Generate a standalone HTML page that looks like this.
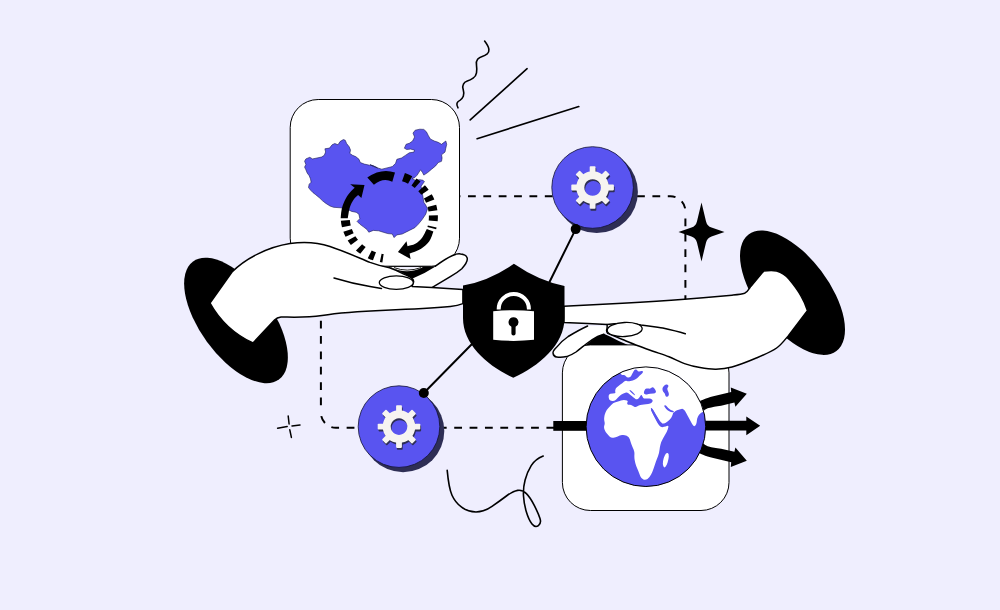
<!DOCTYPE html>
<html><head><meta charset="utf-8"><title>Illustration</title>
<style>html,body{margin:0;padding:0;background:#EFEEFE;}body{width:1000px;height:610px;overflow:hidden;}svg{display:block}</style>
</head><body>
<svg width="1000" height="610" viewBox="0 0 1000 610">
<rect width="1000" height="610" fill="#EFEEFE"/>
<path d="M452.6,196.2 H670.4 A15,15 0 0 1 685.4,211.2" fill="none" stroke="#000" stroke-width="2" stroke-dasharray="7.8 7.57"/>
<path d="M685.4,218.4 V303" fill="none" stroke="#000" stroke-width="2" stroke-dasharray="7.8 7.57"/>
<path d="M320.9,320.7 V412.6" fill="none" stroke="#000" stroke-width="2" stroke-dasharray="7.8 7.57"/>
<path d="M320.9,412.8 A15,15 0 0 0 335.9,427.8 H556" fill="none" stroke="#000" stroke-width="2" stroke-dasharray="7.8 7.57" stroke-dashoffset="-3.4"/>
<path d="M575.7,229.1 L548,285 M423.8,393 L472,344" stroke="#000" stroke-width="2" fill="none"/>
<path d="M484.6,41.1 Q488.6,46.4 488.9,49.3 Q489.2,52.1 487.2,53.9 Q485.1,55.6 482.2,56.4 Q479.4,57.2 477.6,59.3 Q475.9,61.3 476.5,65.4 Q477.1,69.4 476.5,72.8 Q475.9,76.3 473.1,78.2 Q470.2,80.2 467.3,81.1 Q464.4,82.0 463.3,84.3 Q462.1,86.6 463.3,90.0 Q464.4,93.5 463.3,96.3 Q462.1,99.2 459.9,100.4 Q457.6,101.5 457.0,103.2 Q456.4,105.0 458.0,107.9" fill="none" stroke="#000" stroke-width="1.6" stroke-linecap="round"/>
<path d="M527.1,68.7 L470.2,119.9 M578.8,106.6 L477.1,138.7" stroke="#000" stroke-width="1.6" stroke-linecap="round"/>
<path d="M447.2,470.4 Q448.8,488.0 452.0,495.2 Q455.2,502.4 461.6,507.2 Q468.0,512.0 476.0,512.0 Q484.0,512.0 492.0,506.4 Q500.0,500.8 506.4,496.0 Q512.8,491.2 517.6,490.4 Q522.4,489.6 526.4,493.6 Q530.4,497.6 534.4,505.6 Q538.4,513.6 540.0,518.4 Q541.6,523.2 538.4,525.6 Q535.2,528.0 532.0,524.0 Q528.8,520.0 526.4,512.0 Q524.0,504.0 523.5,496.0 Q523.0,488.0 525.1,480.0 Q527.2,472.0 531.2,465.6 Q535.2,459.2 543.2,456.0" fill="none" stroke="#000" stroke-width="1.6" stroke-linecap="round"/>
<path d="M277.6,428.2 L287.2,426.6 M292,425.9 L300,425 M288.2,416 L289.1,424 M289.8,429.8 L291.4,437.4" stroke="#000" stroke-width="1.5" stroke-linecap="round"/>
<path d="M701.5,202.6 L706.04,221.5 Q707.14,226.1 711.5,227.58 L724.5,232.0 L711.5,236.42 Q707.14,237.9 706.04,242.5 L701.5,261.4 L696.96,242.5 Q695.86,237.9 691.5,236.42 L678.5,232.0 L691.5,227.58 Q695.86,226.1 696.96,221.5Z" fill="#000"/>
<circle cx="596.7" cy="191.9" r="41.2" fill="#2E2E55"/><circle cx="592.6" cy="187.5" r="40.8" fill="#5954F0" stroke="#111133" stroke-width="0.8"/><g transform="translate(593.4,189.4)" fill="#2E2E55"><rect x="-2.9" y="-21.3" width="5.8" height="9" rx="0.8" transform="rotate(0)"/><rect x="-2.9" y="-21.3" width="5.8" height="9" rx="0.8" transform="rotate(45)"/><rect x="-2.9" y="-21.3" width="5.8" height="9" rx="0.8" transform="rotate(90)"/><rect x="-2.9" y="-21.3" width="5.8" height="9" rx="0.8" transform="rotate(135)"/><rect x="-2.9" y="-21.3" width="5.8" height="9" rx="0.8" transform="rotate(180)"/><rect x="-2.9" y="-21.3" width="5.8" height="9" rx="0.8" transform="rotate(225)"/><rect x="-2.9" y="-21.3" width="5.8" height="9" rx="0.8" transform="rotate(270)"/><rect x="-2.9" y="-21.3" width="5.8" height="9" rx="0.8" transform="rotate(315)"/><path fill-rule="evenodd" d="M0,-16.3 A16.3,16.3 0 1 1 -0.01,-16.3Z M0,-8.3 A8.3,8.3 0 1 0 0.01,-8.3Z"/></g><g transform="translate(592.6,187.5)" fill="#F6F4F1"><rect x="-2.9" y="-21.3" width="5.8" height="9" rx="0.8" transform="rotate(0)"/><rect x="-2.9" y="-21.3" width="5.8" height="9" rx="0.8" transform="rotate(45)"/><rect x="-2.9" y="-21.3" width="5.8" height="9" rx="0.8" transform="rotate(90)"/><rect x="-2.9" y="-21.3" width="5.8" height="9" rx="0.8" transform="rotate(135)"/><rect x="-2.9" y="-21.3" width="5.8" height="9" rx="0.8" transform="rotate(180)"/><rect x="-2.9" y="-21.3" width="5.8" height="9" rx="0.8" transform="rotate(225)"/><rect x="-2.9" y="-21.3" width="5.8" height="9" rx="0.8" transform="rotate(270)"/><rect x="-2.9" y="-21.3" width="5.8" height="9" rx="0.8" transform="rotate(315)"/><path fill-rule="evenodd" d="M0,-16.3 A16.3,16.3 0 1 1 -0.01,-16.3Z M0,-8.3 A8.3,8.3 0 1 0 0.01,-8.3Z"/></g>
<circle cx="403.1" cy="431.0" r="41.2" fill="#2E2E55"/><circle cx="399" cy="426.6" r="40.8" fill="#5954F0" stroke="#111133" stroke-width="0.8"/><g transform="translate(399.8,428.5)" fill="#2E2E55"><rect x="-2.9" y="-21.3" width="5.8" height="9" rx="0.8" transform="rotate(0)"/><rect x="-2.9" y="-21.3" width="5.8" height="9" rx="0.8" transform="rotate(45)"/><rect x="-2.9" y="-21.3" width="5.8" height="9" rx="0.8" transform="rotate(90)"/><rect x="-2.9" y="-21.3" width="5.8" height="9" rx="0.8" transform="rotate(135)"/><rect x="-2.9" y="-21.3" width="5.8" height="9" rx="0.8" transform="rotate(180)"/><rect x="-2.9" y="-21.3" width="5.8" height="9" rx="0.8" transform="rotate(225)"/><rect x="-2.9" y="-21.3" width="5.8" height="9" rx="0.8" transform="rotate(270)"/><rect x="-2.9" y="-21.3" width="5.8" height="9" rx="0.8" transform="rotate(315)"/><path fill-rule="evenodd" d="M0,-16.3 A16.3,16.3 0 1 1 -0.01,-16.3Z M0,-8.3 A8.3,8.3 0 1 0 0.01,-8.3Z"/></g><g transform="translate(399,426.6)" fill="#F6F4F1"><rect x="-2.9" y="-21.3" width="5.8" height="9" rx="0.8" transform="rotate(0)"/><rect x="-2.9" y="-21.3" width="5.8" height="9" rx="0.8" transform="rotate(45)"/><rect x="-2.9" y="-21.3" width="5.8" height="9" rx="0.8" transform="rotate(90)"/><rect x="-2.9" y="-21.3" width="5.8" height="9" rx="0.8" transform="rotate(135)"/><rect x="-2.9" y="-21.3" width="5.8" height="9" rx="0.8" transform="rotate(180)"/><rect x="-2.9" y="-21.3" width="5.8" height="9" rx="0.8" transform="rotate(225)"/><rect x="-2.9" y="-21.3" width="5.8" height="9" rx="0.8" transform="rotate(270)"/><rect x="-2.9" y="-21.3" width="5.8" height="9" rx="0.8" transform="rotate(315)"/><path fill-rule="evenodd" d="M0,-16.3 A16.3,16.3 0 1 1 -0.01,-16.3Z M0,-8.3 A8.3,8.3 0 1 0 0.01,-8.3Z"/></g>
<circle cx="575.7" cy="229.1" r="5" fill="#000"/><circle cx="423.8" cy="393" r="5" fill="#000"/>
<rect x="290.2" y="99.5" width="169.3" height="166.7" rx="28" fill="#fff" stroke="#000" stroke-width="1"/>
<path d="M325.6,203.2 L322.3,200.6 L319.7,198.0 L315.7,194.7 L313.1,192.7 L310.5,190.1 L308.5,187.5 L309.2,184.2 L311.1,182.2 L310.5,178.9 L309.2,175.7 L307.2,173.0 L305.9,169.8 L304.6,167.1 L305.9,164.5 L304.6,161.2 L305.9,158.9 L309.8,157.3 L312.5,158.9 L317.0,158.0 L321.6,157.0 L324.3,155.3 L325.6,152.0 L324.9,148.8 L329.5,148.1 L332.1,144.8 L334.8,143.5 L338.0,144.8 L340.0,141.6 L343.3,139.6 L345.2,140.2 L346.6,143.5 L349.2,146.8 L350.5,150.1 L349.8,153.4 L352.5,155.3 L355.7,156.6 L359.0,159.3 L360.3,162.5 L364.3,164.1 L369.5,165.2 L373.4,165.8 L377.4,167.8 L370.0,164.6 L375.2,167.2 L381.8,169.2 L387.0,167.9 L392.3,166.6 L395.6,163.3 L396.9,159.3 L401.5,158.0 L405.4,155.4 L409.3,152.8 L413.9,152.1 L414.6,150.2 L410.7,149.1 L406.7,149.5 L404.4,148.2 L406.1,144.3 L409.3,143.3 L412.6,141.0 L414.6,137.0 L413.0,133.1 L415.2,130.2 L419.8,129.2 L423.8,129.4 L426.4,131.8 L428.4,135.7 L430.3,139.0 L434.3,141.0 L438.2,142.3 L441.5,144.3 L445.8,141.0 L446.7,144.3 L445.8,148.2 L445.0,152.1 L441.5,154.8 L442.1,158.0 L441.5,161.3 L438.2,162.6 L435.6,165.9 L431.6,169.2 L427.7,172.5 L423.8,175.1 L422.5,172.5 L420.5,169.8 L417.2,175.1 L414.6,177.7 L412.0,178.4 L415.2,180.3 L419.8,179.7 L423.1,180.3 L424.4,181.6 L422.5,184.3 L421.1,186.2 L423.9,202.4 L425.7,205.1 L427.5,208.7 L425.7,214.2 L422.1,219.6 L418.4,224.1 L414.8,227.7 L409.4,230.4 L402.2,234.0 L396.8,234.9 L394.1,237.6 L392.3,234.0 L387.8,233.6 L383.2,232.2 L378.7,230.8 L373.3,230.4 L368.8,232.2 L367.0,229.5 L363.4,226.8 L359.8,224.1 L357.1,221.4 L359.8,218.7 L358.9,214.2 L356.2,212.3 L351.7,211.4 L348.1,209.6 L340.8,207.8 L333.6,207.3 L330.0,206.0Z" fill="#5954F0" stroke="#1a1a50" stroke-width="0.6" stroke-linejoin="round"/>
<g transform="translate(389.3 216.8) scale(1 0.95) translate(-389.3 -216.8)">
<path d="M403.48,175.04 A44.1,44.1 0 0 1 410.17,177.95" fill="none" stroke="#000" stroke-width="9"/>
<path d="M413.96,180.24 A44.1,44.1 0 0 1 417.65,183.02" fill="none" stroke="#000" stroke-width="9"/>
<path d="M421.61,186.78 A44.1,44.1 0 0 1 425.02,190.94" fill="none" stroke="#000" stroke-width="9"/>
<path d="M427.83,195.35 A44.1,44.1 0 0 1 430.16,200.21" fill="none" stroke="#000" stroke-width="9"/>
<path d="M431.86,205.24 A44.1,44.1 0 0 1 432.95,210.51" fill="none" stroke="#000" stroke-width="9"/>
<path d="M433.38,215.38 A44.1,44.1 0 0 1 433.19,221.14" fill="none" stroke="#000" stroke-width="9"/>
<path d="M432.22,226.95 A44.1,44.1 0 0 1 431.75,228.73" fill="none" stroke="#000" stroke-width="9"/>
<path d="M383.01,260.45 A44.1,44.1 0 0 1 380.73,260.06" fill="none" stroke="#000" stroke-width="9"/>
<path d="M374.47,258.33 A44.1,44.1 0 0 1 369.73,256.32" fill="none" stroke="#000" stroke-width="9"/>
<path d="M362.98,252.18 A44.1,44.1 0 0 1 359.03,248.87" fill="none" stroke="#000" stroke-width="9"/>
<path d="M354.43,243.80 A44.1,44.1 0 0 1 351.52,239.55" fill="none" stroke="#000" stroke-width="9"/>
<path d="M349.58,235.96 A44.1,44.1 0 0 1 347.62,231.19" fill="none" stroke="#000" stroke-width="9"/>
<path d="M346.37,226.87 A44.1,44.1 0 0 1 345.35,220.49" fill="none" stroke="#000" stroke-width="9"/>
</g>
<path d="M367.3,177.4 Q381.85,167.6 395,172.6 L392.3,181.7 Q382.9,177.35 373.9,184.8Z" fill="#000"/>
<path d="M433.4,231.5 C432.72,233.13 431.35,238.43 429.30,241.30 C427.25,244.17 424.38,246.65 421.10,248.70 C417.82,250.75 411.52,252.78 409.60,253.60 L410.6,258.9 L397.95,252.1 L406.5,241.3 L407.5,246.2 C408.80,245.80 412.90,245.17 415.30,243.80 C417.70,242.43 419.98,240.47 421.90,238.00 C423.82,235.53 425.98,230.50 426.80,229.00Z" fill="#000"/>
<path d="M340.7,218.2 C340.90,216.57 341.05,211.68 341.90,208.40 C342.75,205.12 344.25,201.38 345.80,198.50 C347.35,195.62 349.72,192.90 351.20,191.10 C352.68,189.30 354.12,188.27 354.70,187.70 L350.2,184.3 L364.5,185 L361.4,198 L358.1,195.1 C357.37,195.83 355.08,197.45 353.70,199.50 C352.32,201.55 350.78,204.28 349.80,207.40 C348.82,210.52 348.13,216.40 347.80,218.20Z" fill="#000"/>
<ellipse cx="236" cy="320.5" rx="73" ry="36" transform="rotate(54 236 320.5)" fill="#000"/>
<path d="M412,278 L435.4,266.2 C441,262 447,258 452.6,255.5 C456,254 458.5,253.6 460.6,254 C464,254.3 466.5,255.5 467.2,258 C467.8,260.5 466,264 461.8,268.7 C458,272 454,274.5 450.3,276.7 C444,280.5 438,284 432,287.6 L412,287Z" fill="#fff"/>
<path d="M435.4,266.2 C441,262 447,258 452.6,255.5 C456,254 458.5,253.6 460.6,254 C464,254.3 466.5,255.5 467.2,258 C467.8,260.5 466,264 461.8,268.7 C458,272 454,274.5 450.3,276.7 C444,280.5 438,284 432,287.6" fill="none" stroke="#000" stroke-width="1.5" stroke-linecap="round"/>
<path d="M388,266.2 H436 Q424,274 412.6,278.5 Q400,271 388,266.2Z" fill="#000"/>
<path d="M390.5,266.9 H423 Q407,275.5 390.5,266.9Z" fill="#fff"/>
<path d="M394,267.6 Q407,272.6 421,267.6" fill="none" stroke="#000" stroke-width="0.9"/>
<path d="M396,266.9 H419 Q407,270.6 396,266.9Z" fill="#EFEEFE"/>
<path d="M232,272 C246,258 268,247 290,243.5 C304,241.5 318,242.5 330,246.5 C345,251.5 358,257.5 370,262.4 C377,265 383,266.5 389.5,267.8 C396,270 400,272 404.4,274.4 C408,276 410.5,277 411.9,278.4 C413.6,279.8 414,281 413.4,282.6 C413,284 412.5,285 412,286.4 L432,287.6 L462.9,289.6 L462.9,303.6 C459,305.2 455,306 450.3,306.5 C430,308.3 408,309.3 385.6,310.2 C360,311.2 340,312.5 322,315.5 C305,318 290,317 281,317 Q277,317.5 274.5,320 L253,343 Q225,330 210,303 Z" fill="#fff" stroke="#000" stroke-width="1.5" stroke-linejoin="round"/>
<path d="M334,278 Q352,283.5 370,286.5 L381.5,288.4" fill="none" stroke="#000" stroke-width="1.5" stroke-linecap="round"/>
<ellipse cx="396.3" cy="282.6" rx="17" ry="6.7" fill="#fff" stroke="#000" stroke-width="1.3"/>
<rect x="562.4" y="344.9" width="166.6" height="165.6" rx="28" fill="#fff" stroke="#000" stroke-width="1"/>
<rect x="553.3" y="421" width="40" height="9.8" fill="#000"/>
<path d="M700,420.8 H746.3 V416.6 L760.2,425.7 L746.3,435.3 V430.6 H700Z" fill="#000"/>
<path d="M696,403 C700,401 705,398.5 713.3,396.3 L731.2,392.1 L730.8,387.5 L746.8,393.7 L735.4,406.8 L734.4,402.6 L721.1,405.7 C716,406.6 712,407 708.7,408 C706,408.8 704,410.2 700,414Z" fill="#000"/>
<path d="M696,403 C700,401 705,398.5 713.3,396.3 L731.2,392.1 L730.8,387.5 L746.8,393.7 L735.4,406.8 L734.4,402.6 L721.1,405.7 C716,406.6 712,407 708.7,408 C706,408.8 704,410.2 700,414Z" fill="#000" transform="translate(0 854.4) scale(1 -1)"/>
<clipPath id="gc"><circle cx="645.9" cy="426.7" r="59.8"/></clipPath>
<circle cx="645.9" cy="426.7" r="59.8" fill="#5954F0"/>
<g clip-path="url(#gc)"><path d="M616.7,364.6 Q620.3,373.8 621.3,374.5 Q622.3,375.1 623.6,375.1 Q624.9,375.1 625.9,376.3 Q626.9,377.5 628.2,377.6 Q629.5,377.7 630.5,376.8 Q631.5,375.8 632.1,374.1 Q632.8,372.5 633.6,371.2 Q634.4,369.9 635.5,369.5 Q636.7,369.2 637.4,370.5 Q638.0,371.8 639.3,371.4 Q640.6,370.9 642.0,371.0 Q643.3,371.2 642.9,372.2 Q642.6,373.1 641.0,374.5 Q639.3,375.8 638.4,377.1 Q637.4,378.4 635.1,379.4 Q632.8,380.4 630.5,381.0 Q628.2,381.7 626.9,381.0 Q625.6,380.4 623.9,381.7 Q622.3,383.0 620.3,384.6 Q618.4,386.3 616.9,387.2 Q615.5,388.2 615.3,389.9 Q615.1,391.5 615.4,392.5 Q615.7,393.5 612.8,393.5 Q609.8,393.5 609.2,394.5 Q608.5,395.4 608.7,397.4 Q608.9,399.4 610.0,400.2 Q611.1,401.1 613.1,400.9 Q615.1,400.7 616.4,399.2 Q617.7,397.7 619.3,396.2 Q621.0,394.8 622.9,393.8 Q624.9,392.8 626.1,392.6 Q627.3,392.4 628.4,393.3 Q629.5,394.1 630.8,395.2 Q632.1,396.4 633.2,397.2 Q634.4,398.1 635.2,398.7 Q636.1,399.4 637.0,399.2 Q638.0,399.1 638.7,398.3 Q639.3,397.4 640.0,396.4 Q640.6,395.4 641.2,395.1 Q641.7,394.8 642.2,396.0 Q642.6,397.1 643.3,397.9 Q643.9,398.7 645.6,398.6 Q647.2,398.4 649.2,398.6 Q651.1,398.7 651.9,399.4 Q652.7,400.0 652.6,401.0 Q652.4,402.0 651.5,402.8 Q650.5,403.7 648.2,404.0 Q645.9,404.2 643.9,404.4 Q642.0,404.6 640.3,404.9 Q638.7,405.3 637.4,406.3 Q636.1,407.2 634.7,406.9 Q633.4,406.6 632.1,405.6 Q630.8,404.6 629.5,404.8 Q628.2,405.0 627.5,404.2 Q626.9,403.3 627.5,402.2 Q628.2,401.1 626.9,400.5 Q625.6,400.0 623.9,400.0 Q622.3,400.0 621.0,400.5 Q619.7,401.1 618.0,401.5 Q616.4,402.0 614.8,402.4 Q613.1,402.9 611.5,404.7 Q609.8,406.6 608.2,408.2 Q606.6,409.9 605.6,412.2 Q604.6,414.4 604.3,417.1 Q603.9,419.7 604.5,421.7 Q605.0,423.6 604.3,425.6 Q603.7,427.6 604.5,429.5 Q605.2,431.5 606.9,433.5 Q608.5,435.4 609.8,436.7 Q611.1,438.0 613.4,437.7 Q615.7,437.4 617.7,436.4 Q619.7,435.4 622.0,435.1 Q624.3,434.8 626.7,435.7 Q629.1,436.7 629.8,439.3 Q630.5,441.8 631.5,444.4 Q632.5,447.0 633.6,449.5 Q634.6,452.1 634.4,454.7 Q634.2,457.2 634.7,460.3 Q635.2,463.4 636.2,465.9 Q637.3,468.5 638.3,471.0 Q639.3,473.6 640.3,476.2 Q641.4,478.7 643.4,479.4 Q645.5,480.2 647.5,478.9 Q649.5,477.7 651.1,474.6 Q652.6,471.6 653.6,468.5 Q654.7,465.4 655.7,462.3 Q656.7,459.3 658.0,456.2 Q659.2,453.1 659.5,450.0 Q659.8,447.0 660.5,444.4 Q661.2,441.8 662.6,439.3 Q663.9,436.7 665.4,434.2 Q667.0,431.6 667.8,429.2 Q668.6,426.9 668.4,426.2 Q668.2,425.6 666.9,425.9 Q665.6,426.2 664.1,426.8 Q662.7,427.3 661.5,427.1 Q660.3,426.9 659.3,425.6 Q658.3,424.3 657.0,422.0 Q655.7,419.7 654.4,417.1 Q653.1,414.4 652.0,412.2 Q650.9,409.9 651.0,409.0 Q651.1,408.2 651.8,408.5 Q652.4,408.9 653.8,411.4 Q655.1,413.8 656.4,416.1 Q657.7,418.4 659.1,420.7 Q660.6,423.0 661.1,423.4 Q661.6,423.9 663.3,423.6 Q664.9,423.4 666.5,422.2 Q668.2,421.0 669.8,419.4 Q671.5,417.7 672.1,416.1 Q672.8,414.4 673.1,413.1 Q673.4,411.8 672.1,411.5 Q670.8,411.2 669.5,409.9 Q668.2,408.5 666.9,407.0 Q665.6,405.5 664.9,405.7 Q664.2,405.9 664.6,406.6 Q664.9,407.2 666.2,408.5 Q667.5,409.9 668.8,411.2 Q670.1,412.5 671.8,412.8 Q673.4,413.1 674.4,412.0 Q675.4,410.8 677.0,410.3 Q678.7,409.9 680.3,409.2 Q681.9,408.5 682.9,408.9 Q683.9,409.2 684.9,410.8 Q685.9,412.5 687.5,415.4 Q689.2,418.4 690.5,421.0 Q691.8,423.6 692.8,425.1 Q693.7,426.5 694.7,426.0 Q695.7,425.6 696.2,424.0 Q696.8,422.3 696.9,420.3 Q697.0,418.4 698.0,416.4 Q699.0,414.4 700.3,413.5 Q701.6,412.5 703.3,411.8 Q704.9,411.2 711.4,406.3 Q718.0,401.3 718.0,378.4 Q718.0,355.4 665.6,355.4 Q613.1,355.4 616.7,364.6Z" fill="#fff"/>
<path d="M664.4,406.6 Q664.0,405.7 664.8,405.3 Q665.6,405.0 666.9,406.4 Q668.2,407.9 669.5,409.1 Q670.8,410.2 672.2,410.6 Q673.7,411.0 673.9,411.7 Q674.2,412.3 672.5,412.3 Q670.8,412.3 669.2,411.3 Q667.5,410.2 666.2,408.9 Q664.9,407.6 664.4,406.6Z" fill="#5954F0"/>
<path d="M650.9,409.1 Q650.6,407.9 651.4,407.9 Q652.2,407.9 653.6,410.5 Q655.1,413.1 656.5,415.6 Q658.0,418.1 659.4,420.3 Q660.8,422.6 661.9,423.1 Q662.9,423.6 662.3,424.4 Q661.6,425.2 660.4,424.9 Q659.3,424.7 657.8,422.4 Q656.4,420.2 654.9,417.6 Q653.5,415.0 652.3,412.6 Q651.1,410.2 650.9,409.1Z" fill="#5954F0"/>
<path d="M630.0,391.2 Q629.1,390.2 629.8,390.0 Q630.4,389.8 632.6,392.0 Q634.7,394.1 634.9,394.8 Q635.1,395.4 634.5,395.2 Q633.8,395.0 632.3,393.6 Q630.8,392.2 630.0,391.2Z" fill="#5954F0"/>
<path d="M643.9,392.5 Q643.9,391.5 644.6,390.2 Q645.2,388.9 646.5,388.6 Q647.9,388.2 648.8,388.6 Q649.8,388.9 651.1,387.9 Q652.4,386.9 653.4,387.6 Q654.4,388.2 655.4,389.9 Q656.4,391.5 655.7,392.5 Q655.1,393.5 653.4,393.5 Q651.8,393.5 650.2,393.8 Q648.5,394.1 646.9,394.5 Q645.2,394.8 644.6,394.1 Q643.9,393.5 643.9,392.5Z" fill="#5954F0"/>
<path d="M662.6,387.9 Q662.9,386.9 663.9,385.9 Q664.9,384.9 666.2,384.6 Q667.5,384.3 668.2,385.3 Q668.8,386.3 667.9,387.2 Q666.9,388.2 667.5,389.9 Q668.2,391.5 668.7,393.1 Q669.2,394.8 668.4,396.0 Q667.5,397.1 666.5,396.7 Q665.6,396.4 665.2,394.9 Q664.9,393.5 663.9,392.5 Q662.9,391.5 662.6,390.2 Q662.3,388.9 662.6,387.9Z" fill="#5954F0"/>
<path d="M664.9,455.2 Q666.1,452.7 667.6,453.1 Q669.0,453.5 668.8,456.4 Q668.6,459.3 667.6,462.5 Q666.6,465.8 665.3,467.0 Q664.1,468.3 663.3,466.0 Q662.5,463.8 663.1,460.7 Q663.7,457.6 664.9,455.2Z" fill="#fff"/>
</g>
<circle cx="645.9" cy="426.7" r="59.8" fill="none" stroke="#000" stroke-width="1"/>
<ellipse cx="792.5" cy="292.7" rx="73" ry="36" transform="rotate(53 792.5 292.7)" fill="#000"/>
<path d="M587.6,326 C580,329.5 574,333 568.2,336.5 C563,340 559,344 555.8,348.1 C553.5,350.5 552.6,352 553.1,353.5 C553.5,355.6 555,356.8 556.6,357 C560,357.4 563.5,357.2 566.7,356.6 C570,355.6 573,354 576,352 C580,349 583.5,346 586.8,343.5 C591,340.5 594,338.5 597.7,336.5 L603.9,334.2 L610,326Z" fill="#fff"/>
<path d="M587.6,326 C580,329.5 574,333 568.2,336.5 C563,340 559,344 555.8,348.1 C553.5,350.5 552.6,352 553.1,353.5 C553.5,355.6 555,356.8 556.6,357 C560,357.4 563.5,357.2 566.7,356.6 C570,355.6 573,354 576,352 C580,349 583.5,346 586.8,343.5 C591,340.5 594,338.5 597.7,336.5 L603.9,334.2" fill="none" stroke="#000" stroke-width="1.5" stroke-linecap="round"/>
<path d="M585.8,345 Q592,340 597.7,336.5 L603.9,333.8 L610,336.5 Q619,341.5 628,345Z" fill="#000"/>
<path d="M563.9,306.3 C585,305 605,304 622.5,303.2 C645,302 665,300.8 684.5,299.3 C700,298 718,296.5 732,295.2 C738,294.6 741.5,294.3 744.6,293.3 C747.5,292 749,289 750.8,286.4 L763.8,270.9 C770,270.3 774,270.3 776.6,271 C782,272.5 786,275.5 788.9,279 C794,285 798,290.5 801.2,296.3 C804,301 806,306 807.4,310.6 L788.4,335.7  C786.43,337.75 781.85,344.32 776.60,348.00 C771.35,351.68 764.33,354.63 756.90,357.80 C749.47,360.97 738.82,365.10 732.00,367.00 C725.18,368.90 721.33,369.10 716.00,369.20 C710.67,369.30 705.25,368.53 700.00,367.60 C694.75,366.67 689.67,365.40 684.50,363.60 C679.33,361.80 674.25,358.87 669.00,356.80 C663.75,354.73 658.17,353.03 653.00,351.20 C647.83,349.37 643.08,347.75 638.00,345.80 C632.92,343.85 627.53,341.57 622.50,339.50 C617.47,337.43 610.25,334.42 607.80,333.40 C606.4,332 606.4,330 607,328.5 C607.2,326.8 607.3,325.5 607,324.4 L587.6,323.6 L563.9,322.5Z" fill="#fff" stroke="#000" stroke-width="1.5" stroke-linejoin="round"/>
<path d="M607,324.4 C615,323.4 628,323 641,324.9 C650,326 656,327 662.8,328 C671,329.8 678,331.5 685.3,333.7" fill="none" stroke="#000" stroke-width="1.5" stroke-linecap="round"/>
<ellipse cx="624.7" cy="329.5" rx="17.5" ry="7" transform="rotate(-3 624.7 329.5)" fill="#fff" stroke="#000" stroke-width="1.3"/>
<path d="M513.9,263.8 Q489,281 463,285.5 V318 C463,345 488,366 513.3,377.8 C539,366 564.5,345 564.5,318 V286 Q539,281 513.9,263.8Z" fill="#000"/>
<path d="M498.7,309.5 V309 A15.1,15.1 0 0 1 528.9,309 V309.5" fill="none" stroke="#fff" stroke-width="4"/>
<path fill-rule="evenodd" d="M493.2,311.2 Q513.6,309.4 534,311.2 V339.8 Q513.6,342 493.2,339.8Z M513.5,317.2 a5,5 0 0 0 -2.1,9.5 V333.5 a2.1,2.1 0 0 0 4.2,0 V326.7 a5,5 0 0 0 -2.1,-9.5Z" fill="#fff"/>
</svg>
</body></html>
